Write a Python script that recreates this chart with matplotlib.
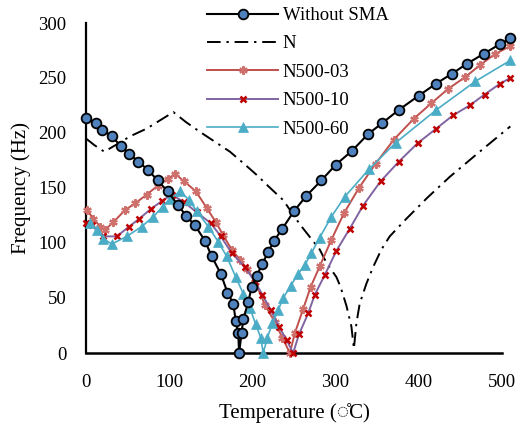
import matplotlib
matplotlib.use("Agg")
import matplotlib.pyplot as plt

# ---------------- data ----------------
t_nosma = [0, 12, 19, 31, 42, 52, 63, 75, 86, 98, 110, 120, 131, 143, 151, 162, 170, 177, 180, 183,
           184, 187, 189, 195, 199, 205, 212, 219, 226, 236, 250, 265, 283, 300, 320, 339, 356, 376,
           400, 421, 440, 458, 478, 498, 510]
f_nosma = [214, 209, 203, 197, 188, 181, 174, 166, 157, 147, 135, 125, 116, 102, 88, 72, 55, 45, 29, 18,
           0, 18, 31, 46, 60, 70, 81, 92, 102, 113, 129, 143, 157, 171, 184, 199, 209, 221,
           234, 245, 254, 263, 272, 281, 286]

t_n = [0, 10, 22, 40, 53, 73, 90, 105, 120, 137, 155, 173, 190, 205, 220, 237, 257, 281, 289, 301,
       306, 313, 319, 322, 325, 329, 337, 345, 355, 365, 385, 410, 437, 470, 510]
f_n = [195, 189, 183, 191, 197, 204, 212, 219, 210, 201, 192, 183, 172, 162, 151, 139, 117, 94, 82, 69,
       60, 43, 24, 4, 27, 45, 63, 78, 94, 106, 122, 141, 160, 181, 206]

t_03 = [1, 9, 17, 23, 33, 47, 59, 73, 86, 98, 107, 118, 132, 145, 156, 165, 175, 185, 194, 203,
        215, 227, 236, 245, 251, 261, 270, 281, 295, 310, 328, 348, 370, 394, 415, 435, 456, 474,
        492, 510]
f_03 = [130, 122, 115, 112, 119, 130, 136, 144, 152, 158, 163, 156, 147, 132, 119, 107, 94, 85, 76, 65,
        44, 28, 14, 0, 18, 40, 60, 79, 103, 127, 150, 172, 194, 213, 227, 240, 251, 262,
        272, 279]

t_10 = [0, 7, 20, 37, 52, 64, 78, 91, 103, 118, 133, 150, 162, 175, 191, 203, 212, 222, 232, 241,
        249, 256, 267, 275, 287, 301, 317, 333, 354, 376, 399, 421, 441, 461, 479, 498, 510]
f_10 = [118, 116, 106, 106, 115, 122, 131, 138, 144, 137, 128, 118, 106, 91, 78, 65, 53, 39, 24, 12,
        0, 17, 36, 53, 71, 93, 113, 134, 156, 174, 191, 204, 216, 225, 235, 245, 250]

t_60 = [5, 13, 21, 31, 49, 67, 81, 92, 101, 113, 124, 133, 147, 159, 169, 180, 189, 197, 204, 210,
        213, 218, 224, 231, 237, 246, 255, 263, 271, 281, 295, 311, 340, 372, 421, 468, 510]
f_60 = [118, 112, 104, 99, 106, 115, 124, 133, 140, 147, 139, 129, 115, 101, 88, 69, 54, 41, 26, 14,
        0, 14, 27, 39, 50, 61, 72, 80, 91, 105, 124, 142, 167, 191, 221, 247, 266]

labels = ["Without SMA", "N", "N500-03", "N500-10", "N500-60"]
xticks = [0, 100, 200, 300, 400, 500]
yticks = [0, 50, 100, 150, 200, 250, 300]

# ---------------- style ----------------
serif = ["Liberation Serif", "DejaVu Serif"]
plt.rcParams["font.family"] = serif

fig = plt.figure(figsize=(5.30, 4.26), dpi=100)
ax = fig.add_axes([86 / 530, 1 - 353 / 426, (502 - 86) / 530, (353 - 23) / 426])

ax.plot(t_n, f_n, color="black", lw=1.4, dashes=(7, 3, 1.2, 3), label=labels[1], zorder=2,
        clip_on=False)
ax.plot(t_03, f_03, color="#C0504D", lw=1.4, marker=(6, 2, 0), ms=6, mew=1.6,
        mec="#D0706C", mfc="#D0706C", label=labels[2], zorder=3, clip_on=False)
ax.plot(t_10, f_10, color="#8064A2", lw=1.4, marker="x", ms=5, mew=1.8,
        mec="#C00000", label=labels[3], zorder=3, clip_on=False)
ax.plot(t_60, f_60, color="#4BACC6", lw=1.2, marker="^", ms=6.5, mew=0.5,
        mec="#4BACC6", mfc="#4BACC6", label=labels[4], zorder=3, clip_on=False)
ax.plot(t_nosma, f_nosma, color="black", lw=1.5, marker="o", ms=7, mew=1.3,
        mec="black", mfc="#4F81BD", label=labels[0], zorder=4, clip_on=False)

ax.set_xlim(0, 500)
ax.set_ylim(0, 300)
ax.set_xticks(xticks)
ax.set_yticks(yticks)
ax.tick_params(length=0, labelsize=13.5)
ax.tick_params(axis="x", pad=15)
ax.tick_params(axis="y", pad=14)
for s in ["top", "right"]:
    ax.spines[s].set_visible(False)
ax.spines["left"].set_linewidth(1.6)
ax.spines["bottom"].set_linewidth(1.8)

ax.set_xlabel("Temperature (\u25cc\u030aC)", fontsize=15, labelpad=9,
              family=["Liberation Serif", "DejaVu Sans"])
ax.set_ylabel("Frequency (Hz)", fontsize=15, labelpad=5)

handles, labs = ax.get_legend_handles_labels()
order = [labs.index(l) for l in labels]
fig.legend([handles[i] for i in order], [labs[i] for i in order],
           loc="upper left", bbox_to_anchor=(207 / 530, 1 - 7 / 426),
           frameon=False, fontsize=13.5, handlelength=3.8, handletextpad=0.25,
           labelspacing=0.6, borderpad=0, borderaxespad=0)

fig.savefig("out.png", dpi=100)
